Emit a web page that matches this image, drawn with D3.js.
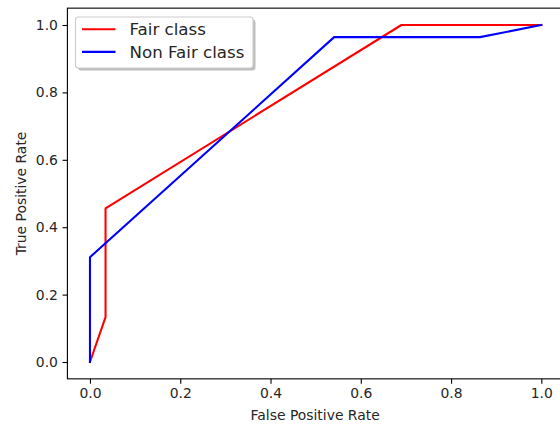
<!DOCTYPE html>
<html>
<head>
<meta charset="utf-8">
<script src="https://cdn.jsdelivr.net/npm/d3@7"></script>
<style>
  html, body { margin: 0; padding: 0; background: #fff; }
  svg { display: block; }
  text { font-family: "DejaVu Sans", sans-serif; fill: #262626; }
</style>
</head>
<body>
<svg id="chart" width="560" height="424"></svg>
<script>
// ---- data ----
const fairFpr = [0.0, 0.0345, 0.0345, 0.69, 1.0];
const fairTpr = [0.0, 0.133, 0.456, 1.0, 1.0];
const nonFairFpr = [0.0, 0.0, 0.541, 0.864, 1.0];
const nonFairTpr = [0.0, 0.311, 0.964, 0.964, 1.0];
const seriesNames = ["Fair class", "Non Fair class"];
const seriesColors = ["#ff0000", "#0000ff"];
const xTicks = [0.0, 0.2, 0.4, 0.6, 0.8, 1.0];
const yTicks = [0.0, 0.2, 0.4, 0.6, 0.8, 1.0];
const xLabel = "False Positive Rate";
const yLabel = "True Positive Rate";

// ---- layout ----
const svg = d3.select("#chart");
const pLeft = 67.4, pRight = 563.9, pTop = 8.15, pBottom = 378.85;
const x = d3.scaleLinear().domain([-0.05, 1.05]).range([pLeft, pRight]);
const y = d3.scaleLinear().domain([-0.05, 1.05]).range([pBottom, pTop]);

const series = [
  fairFpr.map((v, i) => [v, fairTpr[i]]),
  nonFairFpr.map((v, i) => [v, nonFairTpr[i]])
];

const line = d3.line().x(d => x(d[0])).y(d => y(d[1]));

const g = svg.append("g");
series.forEach((s, i) => {
  g.append("path")
    .datum(s)
    .attr("d", line)
    .attr("fill", "none")
    .attr("stroke", seriesColors[i])
    .attr("stroke-width", 2.08)
    .attr("stroke-linejoin", "round")
    .attr("stroke-linecap", "square");
});

// frame
svg.append("rect")
  .attr("x", pLeft).attr("y", pTop)
  .attr("width", pRight - pLeft).attr("height", pBottom - pTop)
  .attr("fill", "none").attr("stroke", "#000").attr("stroke-width", 1.1);

// axes
const fmt = d3.format(".1f");
const xAxis = svg.append("g").attr("transform", `translate(0,${pBottom})`)
  .call(d3.axisBottom(x).tickValues(xTicks).tickFormat(fmt).tickSize(4.86).tickPadding(4.5));
const yAxis = svg.append("g").attr("transform", `translate(${pLeft},0)`)
  .call(d3.axisLeft(y).tickValues(yTicks).tickFormat(fmt).tickSize(4.86).tickPadding(4.6));
[xAxis, yAxis].forEach(a => {
  a.select(".domain").remove();
  a.selectAll(".tick line").attr("stroke", "#000").attr("stroke-width", 1.1);
  a.selectAll(".tick text")
    .attr("font-family", "DejaVu Sans, sans-serif")
    .attr("font-size", 13.9)
    .attr("fill", "#262626");
});

// axis labels
svg.append("text")
  .attr("x", (pLeft + pRight) / 2 - 0.5).attr("y", 419.5)
  .attr("text-anchor", "middle").attr("font-size", 13.9)
  .text(xLabel);
svg.append("text")
  .attr("transform", `translate(26,${(pTop + pBottom) / 2}) rotate(-90)`)
  .attr("text-anchor", "middle").attr("font-size", 13.9)
  .text(yLabel);

// legend
const lg = svg.append("g");
const lx = 75.5, ly = 17, lw = 177.5, lh = 51;
lg.append("rect")
  .attr("x", lx + 2.5).attr("y", ly + 2.5).attr("width", lw).attr("height", lh)
  .attr("rx", 3).attr("fill", "#888").attr("opacity", 0.55);
lg.append("rect")
  .attr("x", lx).attr("y", ly).attr("width", lw).attr("height", lh)
  .attr("rx", 3).attr("fill", "#fff").attr("stroke", "#cccccc").attr("stroke-width", 1.1);
seriesNames.forEach((name, i) => {
  const yy = 29.2 + i * 22.7;
  lg.append("line")
    .attr("x1", 82).attr("x2", 115.5).attr("y1", yy).attr("y2", yy)
    .attr("stroke", seriesColors[i]).attr("stroke-width", 2.08);
  lg.append("text")
    .attr("x", 129.5).attr("y", yy + 6)
    .attr("font-size", 16.67)
    .text(name);
});
</script>
</body>
</html>
